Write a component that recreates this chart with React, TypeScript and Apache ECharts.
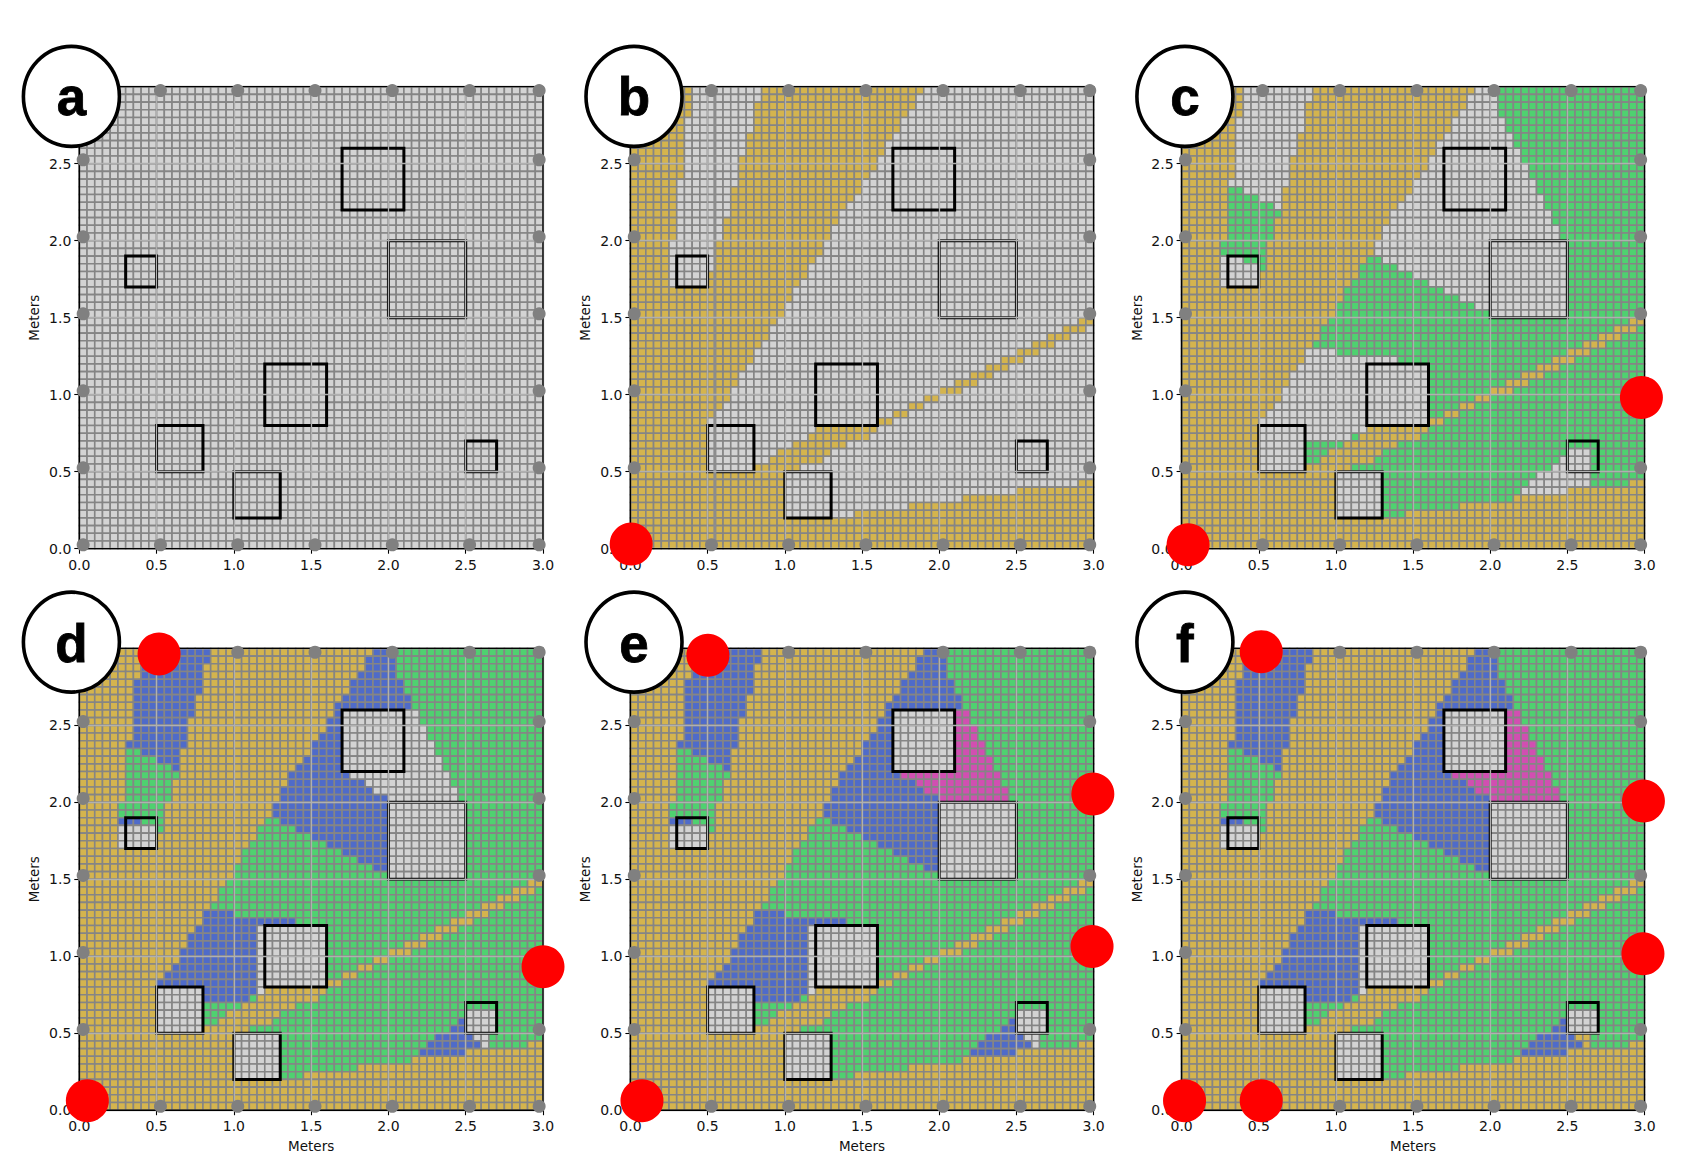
import React, { useEffect, useRef } from "react";
import * as echarts from "echarts";

const tickLabels = ["0.0", "0.5", "1.0", "1.5", "2.0", "2.5", "3.0"];
const panelLetters = ["a", "b", "c", "d", "e", "f"];
const palette = ["#d3d3d3", "#d4b44e", "#4fd170", "#4f6bc9", "#d14fb1"];

// [fromRow, toRow, fromCol, toCol], rows counted from the top of the 60x60 grid
const goldSpans = [
  [0, 3, 0, 7], [4, 11, 0, 6], [12, 19, 0, 5], [20, 25, 0, 4],
  [0, 0, 17, 37], [1, 1, 17, 36], [2, 2, 16, 36], [3, 3, 16, 35], [4, 5, 16, 34],
  [6, 6, 15, 33], [7, 8, 15, 32], [9, 10, 14, 31], [11, 11, 14, 30], [12, 12, 14, 29],
  [13, 13, 13, 29], [14, 14, 13, 28], [15, 15, 13, 27], [16, 16, 13, 26], [17, 17, 12, 26],
  [18, 19, 12, 25], [20, 21, 11, 24], [22, 22, 11, 23], [23, 23, 11, 22], [24, 24, 10, 22],
  [25, 25, 10, 21], [26, 27, 0, 20], [28, 29, 0, 19], [30, 30, 0, 18], [31, 32, 0, 17],
  [33, 33, 0, 16], [34, 35, 0, 15], [36, 36, 0, 14], [37, 38, 0, 13], [39, 40, 0, 12],
  [41, 41, 0, 11], [42, 42, 0, 10], [43, 49, 0, 9], [50, 55, 0, 19], [56, 59, 0, 59],
  [30, 30, 58, 59], [31, 31, 56, 58], [32, 32, 54, 56], [33, 33, 52, 54], [34, 34, 50, 52],
  [35, 35, 48, 50], [36, 36, 46, 48], [37, 37, 44, 46], [38, 38, 42, 44], [39, 39, 40, 42],
  [40, 40, 38, 39], [41, 41, 36, 37], [42, 42, 34, 35], [43, 43, 32, 33], [44, 44, 24, 31],
  [45, 45, 23, 30], [46, 46, 21, 27], [47, 47, 19, 25], [48, 48, 18, 24], [49, 49, 16, 21],
  [51, 51, 58, 59], [52, 52, 50, 59], [53, 53, 43, 59], [54, 54, 36, 59], [55, 55, 29, 59],
];

const greenSpans = [
  [0, 3, 41, 59], [4, 5, 42, 59], [6, 7, 43, 59], [8, 9, 44, 59], [10, 11, 45, 59],
  [12, 13, 46, 59], [14, 15, 47, 59], [16, 17, 48, 59], [18, 19, 49, 59], [20, 29, 50, 59],
  [13, 13, 6, 7], [14, 14, 6, 9], [15, 15, 6, 11], [16, 16, 6, 12], [17, 19, 6, 11],
  [20, 21, 5, 10], [22, 22, 8, 10], [23, 23, 10, 10],
  [22, 22, 24, 25], [23, 23, 23, 27], [24, 24, 23, 29], [25, 25, 22, 31], [26, 26, 21, 33],
  [27, 27, 21, 35], [28, 28, 20, 37], [29, 29, 20, 39], [30, 30, 19, 59], [31, 32, 18, 59],
  [33, 33, 17, 59], [34, 34, 20, 59], [35, 35, 28, 59], [36, 44, 32, 59],
  [45, 45, 22, 22], [45, 45, 31, 59], [46, 46, 16, 20], [46, 46, 28, 59],
  [47, 47, 16, 18], [47, 47, 26, 49], [47, 47, 53, 59], [48, 48, 16, 17], [48, 48, 25, 48],
  [48, 48, 53, 59], [49, 49, 22, 47], [49, 49, 53, 59], [50, 50, 26, 45], [50, 50, 53, 59],
  [51, 51, 26, 44], [51, 51, 53, 57], [52, 52, 26, 43], [53, 53, 26, 42], [54, 54, 26, 35],
  [55, 55, 26, 28],
];

const blueSpans = [
  [0, 1, 8, 16], [2, 3, 8, 15], [4, 5, 7, 15], [6, 8, 7, 14], [9, 11, 7, 13], [12, 12, 6, 13],
  [13, 13, 8, 12], [14, 14, 10, 12], [15, 15, 12, 12], [22, 22, 5, 7],
  [0, 0, 38, 40], [1, 2, 37, 40], [3, 3, 36, 40], [4, 5, 35, 41], [6, 6, 34, 42], [7, 7, 33, 42],
  [8, 8, 33, 33], [9, 10, 32, 33], [11, 11, 31, 33], [12, 13, 30, 33], [14, 14, 29, 33],
  [15, 15, 28, 33], [16, 16, 27, 34], [17, 17, 27, 36], [18, 18, 26, 37], [19, 19, 26, 39],
  [20, 21, 25, 39], [22, 22, 26, 39], [23, 23, 28, 39], [24, 24, 30, 39], [25, 25, 32, 39],
  [26, 26, 34, 39], [27, 27, 36, 39], [28, 28, 38, 39],
  [34, 34, 16, 19], [35, 35, 16, 27], [36, 36, 15, 22], [37, 38, 14, 22], [39, 40, 13, 22],
  [41, 41, 12, 22], [42, 42, 11, 22], [43, 43, 10, 22], [44, 44, 16, 22], [45, 45, 16, 21],
  [48, 48, 49, 49], [49, 49, 48, 49], [50, 50, 46, 50], [51, 51, 45, 51], [52, 52, 44, 49],
];

const pinkSpans = [
  [8, 9, 42, 43], [10, 11, 42, 44], [12, 13, 42, 45], [14, 15, 42, 46],
  [16, 16, 35, 47], [17, 17, 37, 47], [18, 18, 38, 48], [19, 19, 40, 48],
];

const greyPatchSpans = [[47, 49, 50, 53]];
const goldPatchSpans = [[50, 50, 51, 52], [51, 51, 52, 52]];

// panel layers: [paletteIndex, spans], painted in order
const panelLayers: any[][] = [
  [],
  [[1, goldSpans]],
  [[2, greenSpans], [1, goldSpans]],
  [[2, greenSpans], [3, blueSpans], [0, greyPatchSpans], [1, goldSpans]],
  [[2, greenSpans], [3, blueSpans], [4, pinkSpans], [0, greyPatchSpans], [1, goldSpans]],
  [[2, greenSpans], [3, blueSpans], [4, pinkSpans], [0, greyPatchSpans], [1, goldSpans], [1, goldPatchSpans]],
];

// [x0, y0, x1, y1] in metres
const obstacleBoxes = [
  [1.7, 2.2, 2.1, 2.6], [2.0, 1.5, 2.5, 2.0], [0.3, 1.7, 0.5, 1.9], [1.2, 0.8, 1.6, 1.2],
  [0.5, 0.5, 0.8, 0.8], [1.0, 0.2, 1.3, 0.5], [2.5, 0.5, 2.7, 0.7],
];

const sensorPoints = [
  [0.025, 0.025], [0.525, 0.025], [1.025, 0.025], [1.525, 0.025], [2.025, 0.025], [2.525, 0.025], [2.975, 0.025],
  [0.025, 2.975], [0.525, 2.975], [1.025, 2.975], [1.525, 2.975], [2.025, 2.975], [2.525, 2.975], [2.975, 2.975],
  [0.025, 0.525], [0.025, 1.025], [0.025, 1.525], [0.025, 2.025], [0.025, 2.525],
  [2.975, 0.525], [2.975, 1.025], [2.975, 1.525], [2.975, 2.025], [2.975, 2.525],
];

const redPoints = [
  [],
  [[0.005, 0.03]],
  [[0.042, 0.026], [2.98, 0.982]],
  [[0.052, 0.062], [0.516, 2.964], [3.0, 0.932]],
  [[0.075, 0.062], [0.502, 2.955], [2.995, 2.054], [2.99, 1.064]],
  [[0.019, 0.062], [0.516, 2.979], [0.516, 0.062], [2.993, 2.008], [2.99, 1.016]],
];

const panelBLine = [[0.547, 0.03], [0.547, 2.95]];

const panelRects = [
  { l: 79.3, r: 543, t: 86.7, b: 548.7, cx: 71.4, cy: 96.4, ty: 96 },
  { l: 630.4, r: 1093.6, t: 86.7, b: 548.7, cx: 634, cy: 96.4, ty: 96 },
  { l: 1181.6, r: 1644.5, t: 86.7, b: 548.7, cx: 1184.9, cy: 96.4, ty: 96 },
  { l: 79.3, r: 543, t: 648.4, b: 1110.2, cx: 71.4, cy: 642.1, ty: 643.2 },
  { l: 630.4, r: 1093.6, t: 648.4, b: 1110.2, cx: 634, cy: 642.1, ty: 643.2 },
  { l: 1181.6, r: 1644.5, t: 648.4, b: 1110.2, cx: 1184.9, cy: 642.1, ty: 643.2 },
];

const FONT = "DejaVu Sans";
const CELL = 0.05;

function buildCells(layers: any[]) {
  const grid: number[][] = Array.from({ length: 60 }, () => new Array(60).fill(0));
  layers.forEach(([cat, spans]) => {
    spans.forEach(([r0, r1, c0, c1]: number[]) => {
      for (let r = r0; r <= r1; r++) for (let c = c0; c <= c1; c++) grid[r][c] = cat;
    });
  });
  const out: number[][] = [];
  for (let r = 0; r < 60; r++) {
    for (let c = 0; c < 60; c++) out.push([c * CELL, (59 - r) * CELL, grid[r][c]]);
  }
  return out;
}

function buildOption() {
  const grids: any[] = [];
  const xAxes: any[] = [];
  const yAxes: any[] = [];
  const series: any[] = [];
  const graphics: any[] = [];

  panelRects.forEach((p, i) => {
    grids.push({ left: p.l, top: p.t, width: p.r - p.l, height: p.b - p.t, containLabel: false });
    const axisBase = {
      type: "value",
      gridIndex: i,
      min: 0,
      max: 3,
      interval: 0.5,
      z: 10,
      nameLocation: "middle",
      nameTextStyle: { fontFamily: FONT, fontSize: 13.5, color: "#111" },
      axisLine: { show: true, onZero: false, lineStyle: { color: "#000", width: 1.2 } },
      axisTick: { show: true, length: 5, lineStyle: { color: "#000", width: 1.1 } },
      axisLabel: {
        fontFamily: FONT,
        fontSize: 14,
        color: "#111",
        margin: 8,
        showMinLabel: true,
        showMaxLabel: true,
        hideOverlap: false,
        formatter: (v: number) => tickLabels[Math.round(v * 2)],
      },
      splitLine: { show: true, lineStyle: { color: "#b0b0b0", width: 1.3 } },
    };
    xAxes.push({
      ...axisBase,
      name: i >= 3 ? "Meters" : "",
      nameGap: 29,
      axisLabel: { ...axisBase.axisLabel, margin: 9 },
    });
    yAxes.push({
      ...axisBase,
      name: "Meters",
      nameGap: 38,
      axisLabel: { ...axisBase.axisLabel, showMaxLabel: false },
    });

    series.push({
      type: "custom",
      xAxisIndex: i,
      yAxisIndex: i,
      z: 2,
      clip: true,
      silent: true,
      encode: { x: 0, y: 1 },
      data: buildCells(panelLayers[i]),
      renderItem: (_: any, api: any) => {
        const x0 = api.value(0);
        const y0 = api.value(1);
        const a = api.coord([x0, y0 + CELL]);
        const s = api.size([CELL, CELL]);
        return {
          type: "rect",
          shape: { x: a[0], y: a[1], width: s[0], height: s[1] },
          style: { fill: palette[api.value(2)], stroke: "#858585", lineWidth: 1.6 },
        };
      },
    });
    series.push({
      type: "custom",
      xAxisIndex: i,
      yAxisIndex: i,
      z: 5,
      silent: true,
      encode: { x: [0, 2], y: [1, 3] },
      data: obstacleBoxes,
      renderItem: (_: any, api: any) => {
        const a = api.coord([api.value(0), api.value(3)]);
        const b = api.coord([api.value(2), api.value(1)]);
        return {
          type: "rect",
          shape: { x: a[0], y: a[1], width: b[0] - a[0], height: b[1] - a[1] },
          style: { fill: "none", stroke: "#000", lineWidth: 3 },
        };
      },
    });
    series.push({
      type: "custom",
      xAxisIndex: i,
      yAxisIndex: i,
      z: 10,
      silent: true,
      encode: { x: [0, 2], y: [1, 3] },
      data: [[0, 0, 3, 3]],
      renderItem: (_: any, api: any) => {
        const a = api.coord([api.value(0), api.value(3)]);
        const b = api.coord([api.value(2), api.value(1)]);
        return {
          type: "rect",
          shape: { x: a[0], y: a[1], width: b[0] - a[0], height: b[1] - a[1] },
          style: { fill: "none", stroke: "#000", lineWidth: 1.3 },
        };
      },
    });
    if (i === 1) {
      series.push({
        type: "line",
        xAxisIndex: i,
        yAxisIndex: i,
        z: 9,
        silent: true,
        symbol: "none",
        data: panelBLine,
        lineStyle: { color: "#8c8c8c", width: 3 },
      });
    }
    series.push({
      type: "scatter",
      xAxisIndex: i,
      yAxisIndex: i,
      z: 11,
      silent: true,
      symbolSize: 13,
      itemStyle: { color: "#808080", opacity: 1 },
      data: sensorPoints,
    });
    if (redPoints[i].length) {
      series.push({
        type: "scatter",
        xAxisIndex: i,
        yAxisIndex: i,
        z: 20,
        clip: false,
        silent: true,
        symbolSize: 43,
        itemStyle: { color: "#ff0000", opacity: 1 },
        data: redPoints[i],
      });
    }

    graphics.push({
      type: "ellipse",
      z: 30,
      silent: true,
      shape: { cx: p.cx, cy: p.cy, rx: 48, ry: 50 },
      style: { fill: "#fff", stroke: "#000", lineWidth: 3.6 },
    });
    graphics.push({
      type: "text",
      z: 31,
      silent: true,
      x: p.cx,
      y: p.ty,
      style: {
        text: panelLetters[i],
        fontFamily: "Liberation Sans",
        fontWeight: "bold",
        fontSize: 53,
        fill: "#000",
        stroke: "#000",
        lineWidth: 0.8,
        align: "center",
        verticalAlign: "middle",
      },
    });
  });

  return {
    animation: false,
    backgroundColor: "#fff",
    grid: grids,
    xAxis: xAxes,
    yAxis: yAxes,
    series,
    graphic: { elements: graphics },
  };
}

export default function App() {
  const ref = useRef<HTMLDivElement>(null);
  useEffect(() => {
    if (!ref.current) return;
    const chart = echarts.init(ref.current, undefined, { renderer: "svg" });
    chart.setOption(buildOption() as any);
    return () => chart.dispose();
  }, []);
  return <div ref={ref} style={{ position: "absolute", left: 0, top: 0, width: 1701, height: 1163 }} />;
}
